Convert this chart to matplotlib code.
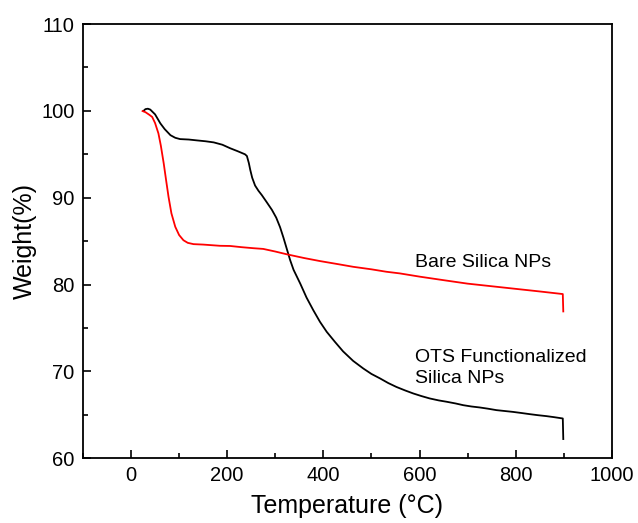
import numpy as np
import matplotlib
matplotlib.use("Agg")
import matplotlib.pyplot as plt
from matplotlib.ticker import MultipleLocator

plt.rcParams['font.family'] = ['Liberation Sans', 'DejaVu Sans']

# OTS functionalized silica (black)
ots_T = [26, 30, 35, 40, 50, 61, 70, 82, 92, 102, 120, 137, 155, 172, 190, 206, 222,
         237, 241, 245, 248, 252, 258, 265, 272, 282, 293, 302, 310, 317, 324, 331,
         338, 345, 352, 365, 379, 393, 407, 424, 441, 462, 483, 500, 518, 535, 552,
         570, 587, 604, 621, 640, 656, 675, 691, 708, 725, 742, 760, 777, 794, 812,
         829, 846, 864, 880, 898, 899]
ots_w = [100.0, 100.2, 100.25, 100.15, 99.6, 98.56, 97.9, 97.2, 96.9, 96.75, 96.7,
         96.6, 96.5, 96.37, 96.1, 95.7, 95.35, 95.0, 94.8, 94.0, 93.2, 92.3, 91.4, 90.8,
         90.3, 89.5, 88.6, 87.7, 86.6, 85.4, 84.1, 82.8, 81.7, 80.9, 80.1, 78.5, 77.05,
         75.7, 74.55, 73.4, 72.3, 71.2, 70.33, 69.7, 69.18, 68.65, 68.2, 67.8, 67.45,
         67.15, 66.88, 66.65, 66.5, 66.3, 66.1, 65.95, 65.84, 65.7, 65.53, 65.43, 65.33,
         65.2, 65.07, 64.95, 64.84, 64.72, 64.57, 62.2]

# Bare silica (red)
bare_T = [24, 30, 38, 44, 50, 57, 62, 68, 73, 78, 84, 92, 100, 109, 118, 130, 150,
          185, 206, 230, 255, 275, 300, 324, 360, 393, 430, 462, 500, 531, 559, 601,
          650, 700, 750, 800, 850, 898, 899]
bare_w = [99.98, 99.85, 99.55, 99.3, 98.6, 97.4, 96.0, 93.95, 92.0, 90.1, 88.2, 86.65,
          85.7, 85.1, 84.8, 84.65, 84.6, 84.46, 84.44, 84.3, 84.18, 84.1, 83.8, 83.48,
          83.05, 82.7, 82.35, 82.04, 81.75, 81.47, 81.28, 80.9, 80.5, 80.1, 79.8, 79.5,
          79.2, 78.9, 76.9]

fig = plt.figure(figsize=(6.38, 5.23), dpi=100)
ax = fig.add_axes([0.130, 0.124, 0.829, 0.830])

ax.plot(ots_T, ots_w, color='black', lw=1.3)
ax.plot(bare_T, bare_w, color='red', lw=1.3)

ax.set_xlim(-100, 1000)
ax.set_ylim(60, 110)
ax.xaxis.set_major_locator(MultipleLocator(200))
ax.xaxis.set_minor_locator(MultipleLocator(100))
ax.yaxis.set_major_locator(MultipleLocator(10))
ax.yaxis.set_minor_locator(MultipleLocator(5))
ax.tick_params(which='both', direction='in', labelsize=14.5, top=False, right=False)
ax.tick_params(which='major', length=6, width=1.2, pad=6)
ax.tick_params(which='minor', length=3.5, width=1.2)
for s in ax.spines.values():
    s.set_linewidth(1.3)

ax.set_xlabel('Temperature (\u00b0C)', fontsize=18, labelpad=6)
ax.set_ylabel('Weight(%)', fontsize=18, labelpad=3)

ax.text(590, 81.97, 'Bare Silica NPs', fontsize=14, va='baseline', ha='left')
ax.text(590, 71.1, 'OTS Functionalized', fontsize=14, va='baseline', ha='left')
ax.text(590, 68.6, 'Silica NPs', fontsize=14, va='baseline', ha='left')

fig.savefig('out.png', dpi=100)
